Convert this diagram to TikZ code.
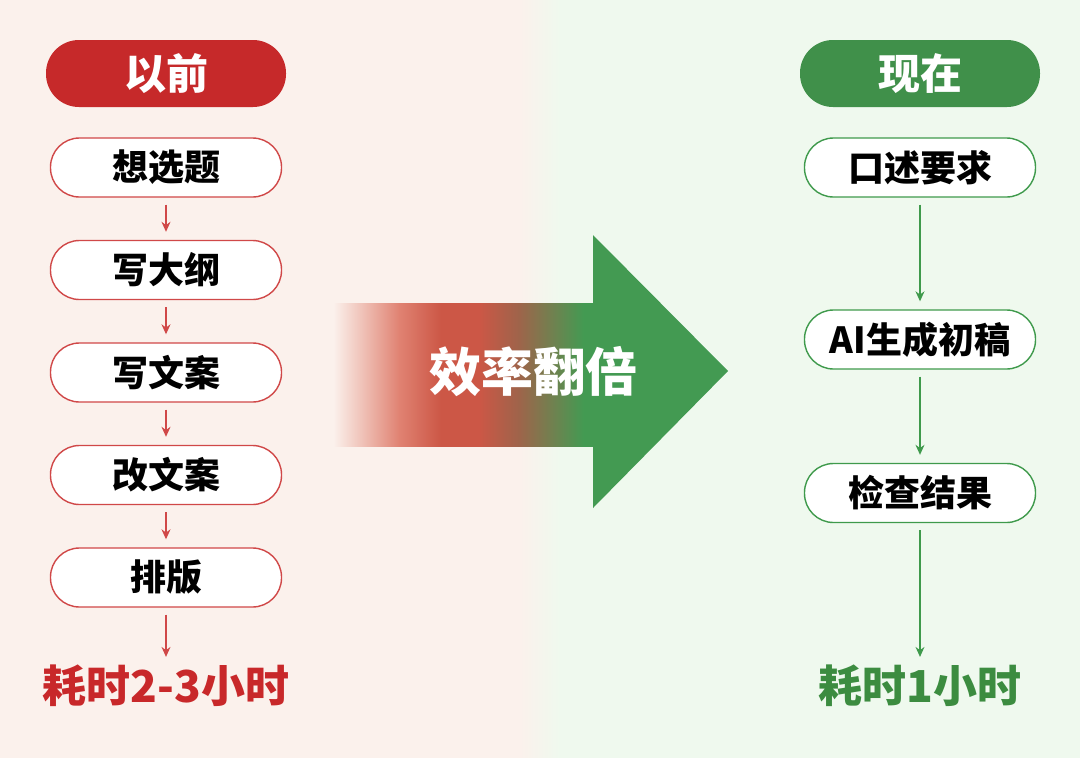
\documentclass[tikz,border=0pt]{standalone}
\usepackage{fontspec}
\setmainfont{Noto Sans CJK SC}
\usetikzlibrary{arrows.meta}
\definecolor{bgred}{HTML}{FBF1EC}
\definecolor{bggreen}{HTML}{EFF9EE}
\definecolor{hdred}{HTML}{C6292A}
\definecolor{hdgreen}{HTML}{40904A}
\definecolor{lnred}{HTML}{D04848}
\definecolor{lngreen}{HTML}{3F9A4C}
\definecolor{txred}{HTML}{C8282A}
\definecolor{txgreen}{HTML}{3C8C40}
\definecolor{shpink}{HTML}{F0C4BA}
\definecolor{shrose}{HTML}{E08272}
\definecolor{shred}{HTML}{CC5746}
\definecolor{shbrown}{HTML}{A0634A}
\definecolor{sholive}{HTML}{6B8450}
\definecolor{arrgreen}{HTML}{439A52}
\pgfdeclarehorizontalshading{effshade}{100bp}{color(0bp)=(bgred); color(26.5bp)=(bgred); color(31.5bp)=(shpink); color(38.5bp)=(shrose); color(46bp)=(shred); color(53bp)=(shred); color(60bp)=(shbrown); color(67bp)=(sholive); color(72bp)=(arrgreen); color(100bp)=(arrgreen)}
\tikzset{
  header/.style={rounded corners=33pt,minimum width=240pt,minimum height=67pt,inner sep=0pt,text=white,font=\fontsize{42}{46}\selectfont\bfseries},
  stepl/.style={draw=lnred,line width=1.4pt,fill=white,rounded corners=29pt,minimum width=231pt,minimum height=59pt,inner sep=0pt,font=\fontsize{36}{40}\selectfont\bfseries},
  stepr/.style={stepl,draw=lngreen},
  total/.style={inner sep=0pt,font=\fontsize{44}{48}\selectfont\bfseries},
  flowl/.style={draw=lnred,line width=1.2pt,-{Stealth[length=10pt,width=9pt]},shorten <=7pt,shorten >=8pt},
  flowr/.style={flowl,draw=lngreen}
}
\begin{document}
\begin{tikzpicture}[x=1pt,y=-1pt,declare function={xl=166; xr=920; dy=102.5;}]
	\useasboundingbox (0,0) rectangle (1080,758);
	\fill[bgred] (0,0) rectangle (520,758);
	\fill[bggreen] (560,0) rectangle (1080,758);
	\shade[left color=bgred,right color=bggreen] (520,0) rectangle (560,758);
	\shade[shading=effshade] (325,303) rectangle (600,446);
	\fill[arrgreen] (593,235) -- (728,371) -- (593,508) -- cycle;
	\node[text=white,inner sep=0pt,font=\fontsize{52}{56}\selectfont\bfseries] (eff) at (533,372) {效率翻倍};
	\node[header,fill=hdred] (before) at (xl,73.5) {以前};
	\foreach \t [count=\i] in {想选题,写大纲,写文案,改文案,排版}{
		\node[stepl] (l\i) at (xl,{167.5+dy*(\i-1)}) {\t};
	}
	\node[total,text=txred] (totl) at (xl,686) {耗时2-3小时};
	\foreach \a/\b in {l1/l2,l2/l3,l3/l4,l4/l5}{
		\draw[flowl] (\a) -- (\b);
	}
	\draw[flowl] (l5) -- (totl);
	\node[header,fill=hdgreen] (now) at (xr,73.5) {现在};
	\foreach \t/\y [count=\i] in {口述要求/167.5,AI生成初稿/339.5,检查结果/493}{
		\node[stepr] (r\i) at (xr,\y) {\t};
	}
	\node[total,text=txgreen] (totr) at (xr,686) {耗时1小时};
	\foreach \a/\b in {r1/r2,r2/r3}{
		\draw[flowr] (\a) -- (\b);
	}
	\draw[flowr] (r3) -- (totr);
\end{tikzpicture}
\end{document}
